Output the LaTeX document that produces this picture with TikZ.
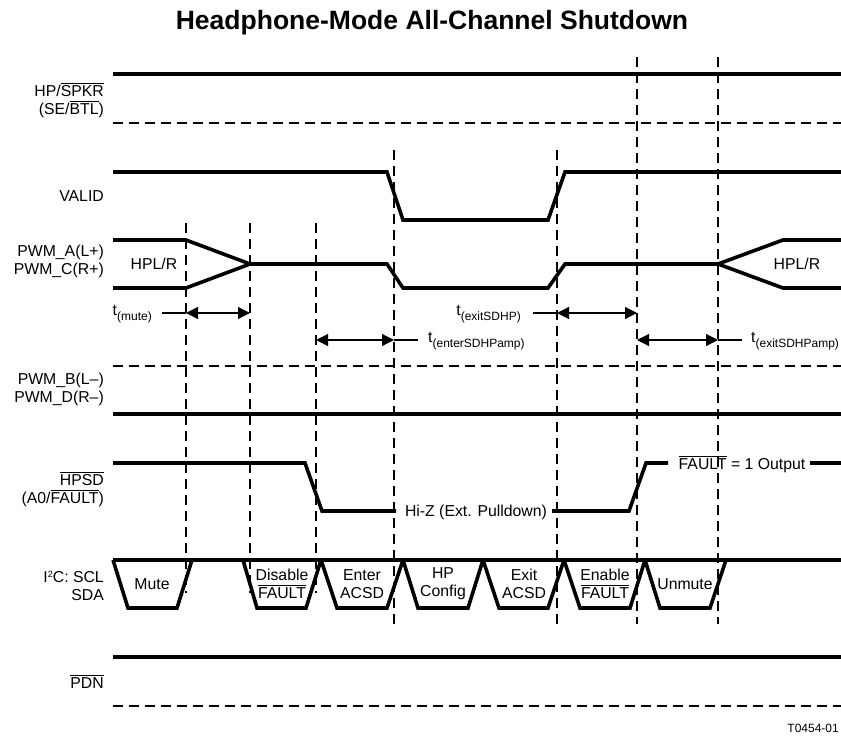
\documentclass[tikz,border=0pt]{standalone}
\usepackage{fontspec}
\setmainfont{Liberation Sans}
\usetikzlibrary{arrows.meta}
\newcommand\ovl[1]{\leavevmode\vbox{\hrule height 1pt \kern 1.6pt \hbox{#1}}}
\newcommand\tsub[1]{t\raisebox{-5pt}{\fontsize{12}{14}\selectfont #1}}
\begin{document}
\begin{tikzpicture}[x=1pt,y=-1pt,
  sig/.style={line width=3.6pt, line join=miter},
  gridline/.style={line width=1.2pt, dash pattern=on 10pt off 6pt},
  dim/.style={line width=1.2pt, {Triangle[length=12pt,width=12pt]}-{Triangle[length=12pt,width=12pt]}},
  lead/.style={line width=1.2pt},
  lbl/.style={font=\fontsize{15.8}{18}\selectfont, inner sep=0pt, align=right, anchor=east},
  txt/.style={font=\fontsize{15.8}{18}\selectfont, inner sep=0pt, align=center},
  tl/.style={font=\fontsize{15.8}{18}\selectfont, inner sep=0pt},
]
\path[use as bounding box, clip] (0,0) rectangle (841,742);

% title
\node[font=\bfseries\fontsize{26.5}{30}\selectfont] (title) at (432,23) {Headphone-Mode All-Channel Shutdown};

% vertical dashed reference lines
\coordinate (v1t) at (186,223); \coordinate (v1b) at (186,593);
\coordinate (v2t) at (250,223); \coordinate (v2b) at (250,593);
\coordinate (v3t) at (316,223); \coordinate (v3b) at (316,593);
\coordinate (v4t) at (394,150); \coordinate (v4b) at (394,624);
\coordinate (v5t) at (557,150); \coordinate (v5b) at (557,624);
\coordinate (v6t) at (637,57);  \coordinate (v6b) at (637,624);
\coordinate (v7t) at (718,57);  \coordinate (v7b) at (718,624);
\foreach \i in {1,...,7} {\draw[gridline] (v\i t) -- (v\i b);}

% HP/SPKR
\node[lbl] (lhp) at (104,100) {HP/\ovl{SPKR}\\(SE/\ovl{BTL})};
\draw[sig] (113,74) -- (841,74);
\draw[gridline] (113,123) -- (841,123);

% VALID
\node[lbl] (lvalid) at (104,196) {VALID};
\draw[sig] (113,172) -- (387,172) -- (403,220) -- (548,220) -- (565,172) -- (841,172);

% PWM_A / PWM_C
\node[lbl] (lpwma) at (104,261) {PWM\_A(L+)\\PWM\_C(R+)};
\draw[sig] (113,240) -- (186,240) -- (250,264) -- (387,264) -- (403,288) -- (548,288) -- (565,264) -- (718,264) -- (783,240) -- (841,240);
\draw[sig] (113,288) -- (186,288) -- (250,264);
\draw[sig] (718,264) -- (783,288) -- (841,288);
\node[tl] (hpl1) at (154,264) {HPL/R};
\node[tl] (hpl2) at (797,264) {HPL/R};

% timing annotations
\node[tl, anchor=east] (tmute) at (152,314) {\tsub{(mute)}};
\draw[lead] (162,313) -- (186,313);
\draw[dim] (186,313) -- (250,313);

\draw[dim] (316,340) -- (394,340);
\draw[lead] (394,340) -- (418,340);
\node[tl, anchor=west] (tenter) at (428,341) {\tsub{(enterSDHPamp)}};

\node[tl, anchor=east] (texit) at (521,314) {\tsub{(exitSDHP)}};
\draw[lead] (533,313) -- (557,313);
\draw[dim] (557,313) -- (637,313);

\draw[dim] (637,340) -- (718,340);
\draw[lead] (718,340) -- (742,340);
\node[tl, anchor=west] (texitamp) at (751,341) {\tsub{(exitSDHPamp)}};

% PWM_B / PWM_D
\node[lbl] (lpwmb) at (104,389) {PWM\_B(L–)\\PWM\_D(R–)};
\draw[gridline] (113,366) -- (841,366);
\draw[sig] (113,414) -- (841,414);

% HPSD
\node[lbl] (lhpsd) at (104,489) {\ovl{HPSD}\\(A0/\ovl{FAULT})};
\node[tl] (hiz) at (476,512) {Hi-Z (Ext. Pulldown)};
\node[tl] (fout) at (742,464) {\ovl{FAULT} = 1 Output};
\draw[sig] (113,463) -- (305,463) -- (322,511) -- (396,511);
\draw[sig] (552,511) -- (629,511) -- (646,463) -- (668,463);
\draw[sig] (810,463) -- (841,463);

% I2C
\node[lbl] (li2c) at (104,586) {I\raisebox{5pt}{\fontsize{9}{10}\selectfont 2}C: SCL\\SDA};
\draw[sig] (113,560) -- (841,560);
\draw[sig] (113,560) -- (128,608) -- (177,608) -- (192,560);
\draw[sig] (243,560) -- (257,608) -- (306,608) -- (321,560);
\draw[sig] (321,560) -- (337,608) -- (387,608) -- (403,560);
\draw[sig] (403,560) -- (418,608) -- (468,608) -- (483,560);
\draw[sig] (483,560) -- (499,608) -- (548,608) -- (564,560);
\draw[sig] (564,560) -- (580,608) -- (630,608) -- (645,560);
\draw[sig] (645,560) -- (660,608) -- (710,608) -- (726,560);
\node[txt] (cmute) at (152,584) {Mute};
\node[txt] (cdis) at (282,584) {Disable\\\ovl{FAULT}};
\node[txt] (center) at (362,584) {Enter\\ACSD};
\node[txt] (chp) at (443,584) {HP\\Config};
\node[txt] (cexit) at (524,584) {Exit\\ACSD};
\node[txt] (cen) at (605,584) {Enable\\\ovl{FAULT}};
\node[txt] (cun) at (685,584) {Unmute};

% PDN
\node[lbl] (lpdn) at (104,682) {\ovl{PDN}};
\draw[sig] (113,657) -- (841,657);
\draw[gridline] (113,706) -- (841,706);

\node[font=\fontsize{12}{14}\selectfont, inner sep=0pt, anchor=east] (tag) at (839,728) {T0454-01};
\end{tikzpicture}
\end{document}
